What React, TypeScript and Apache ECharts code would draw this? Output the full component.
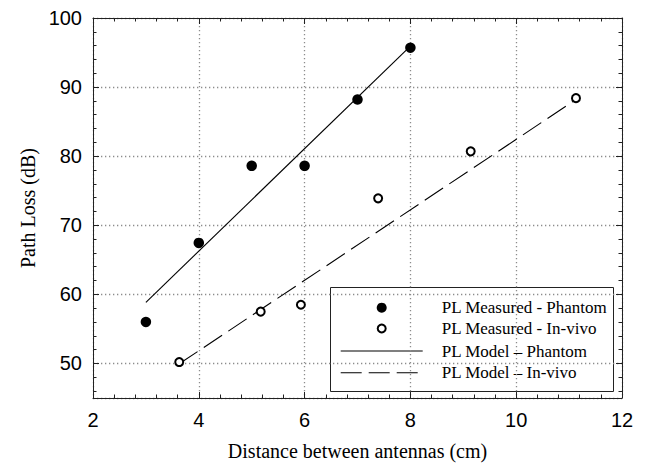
import React, { useEffect, useRef } from 'react';
import * as echarts from 'echarts';

// ---- data ----
const phantomDistance = [3, 4, 5, 6, 7, 8];
const phantomLoss = [56.0, 67.45, 78.6, 78.6, 88.2, 95.7];
const invivoDistance = [3.63, 5.17, 5.93, 7.39, 9.14, 11.13];
const invivoLoss = [50.2, 57.5, 58.5, 73.9, 80.7, 88.4];
const phantomModelDistance = [3, 8];
const phantomModelLoss = [58.84, 95.94];
const invivoModelDistance = [3.63, 11.13];
const invivoModelLoss = [49.95, 88.2];
const legendLabels = [
  'PL Measured - Phantom',
  'PL Measured - In-vivo',
  'PL Model \u2013 Phantom',
  'PL Model \u2013 In-vivo',
];
const xRange = [2, 12];
const xStep = 2;
const yRange = [45, 100];
const xTitle = 'Distance between antennas (cm)';
const yTitle = 'Path Loss (dB)';

const zip = (xs: number[], ys: number[]) => xs.map((x, i) => [x, ys[i]]);

const sans = '"Liberation Sans", Arial, sans-serif';
const serif = '"Liberation Serif", "Times New Roman", serif';
const axisColor = '#222';

export default function App() {
  const ref = useRef<HTMLDivElement>(null);

  useEffect(() => {
    if (!ref.current) return;
    const chart = echarts.init(ref.current, undefined, { renderer: 'svg' });

    const gridLine = {
      show: true,
      lineStyle: { color: '#8c8c8c', width: 1.3, type: [1.3, 2.7] },
    };
    const line = { show: true, onZero: false, lineStyle: { color: axisColor, width: 1 } };
    const majorTick = { show: true, inside: true, length: 6, lineStyle: { color: axisColor, width: 1 } };
    const minorTick = { show: true, splitNumber: 5, length: 3.5, lineStyle: { color: axisColor, width: 1 } };

    const xBase = { type: 'value', min: xRange[0], max: xRange[1], interval: xStep };
    const yBase = { type: 'value', min: yRange[0], max: yRange[1] };

    // legend box (drawn with graphic)
    const lx = 330.5, ly = 287.5, lw = 283, lh = 104;
    const rowY = [307.7, 328.5, 351, 372.7];
    const iconX0 = 340.7, iconX1 = 422.7, iconC = (iconX0 + iconX1) / 2;
    const textX = 441.7;

    const option: any = {
      animation: false,
      backgroundColor: '#fff',
      grid: { left: 93, right: 26, top: 18, bottom: 70, containLabel: false },
      xAxis: [
        {
          ...xBase,
          position: 'bottom',
          axisLine: line,
          axisTick: majorTick,
          minorTick,
          splitLine: gridLine,
          axisLabel: { color: '#000', fontFamily: sans, fontSize: 20, margin: 12 },
          name: xTitle,
          nameLocation: 'middle',
          nameGap: 43,
          nameTextStyle: { fontFamily: serif, fontSize: 20, color: '#000' },
        },
        {
          ...xBase,
          position: 'top',
          axisLine: line,
          axisTick: majorTick,
          minorTick,
          splitLine: { show: false },
          axisLabel: { show: false },
        },
      ],
      yAxis: [
        {
          ...yBase,
          splitNumber: 5,
          position: 'left',
          axisLine: line,
          axisTick: majorTick,
          splitLine: gridLine,
          axisLabel: { color: '#000', fontFamily: sans, fontSize: 20, margin: 11, showMinLabel: false },
          name: yTitle,
          nameLocation: 'middle',
          nameGap: 53,
          nameTextStyle: { fontFamily: serif, fontSize: 20, color: '#000' },
        },
        {
          ...yBase,
          splitNumber: 27,
          position: 'left',
          axisLine: { show: false },
          axisTick: { show: true, inside: true, length: 3.5, lineStyle: { color: axisColor, width: 1 } },
          splitLine: { show: false },
          axisLabel: { show: false },
        },
        {
          ...yBase,
          splitNumber: 5,
          position: 'right',
          axisLine: line,
          axisTick: majorTick,
          splitLine: { show: false },
          axisLabel: { show: false },
        },
        {
          ...yBase,
          splitNumber: 27,
          position: 'right',
          axisLine: { show: false },
          axisTick: { show: true, inside: true, length: 3.5, lineStyle: { color: axisColor, width: 1 } },
          splitLine: { show: false },
          axisLabel: { show: false },
        },
      ],
      series: [
        {
          name: legendLabels[2],
          type: 'line',
          data: zip(phantomModelDistance, phantomModelLoss),
          symbol: 'none',
          lineStyle: { color: '#000', width: 1.1 },
          z: 2,
        },
        {
          name: legendLabels[3],
          type: 'line',
          data: zip(invivoModelDistance, invivoModelLoss),
          symbol: 'none',
          lineStyle: { color: '#000', width: 1.1, type: [22, 7.5] },
          z: 2,
        },
        {
          name: legendLabels[0],
          type: 'scatter',
          data: zip(phantomDistance, phantomLoss),
          symbol: 'circle',
          symbolSize: 10.5,
          itemStyle: { color: '#000', opacity: 1 },
          z: 3,
        },
        {
          name: legendLabels[1],
          type: 'scatter',
          data: zip(invivoDistance, invivoLoss),
          symbol: 'circle',
          symbolSize: 8,
          itemStyle: { color: '#fff', borderColor: '#000', borderWidth: 2, opacity: 1 },
          z: 3,
        },
      ],
      graphic: [
        {
          type: 'group',
          z: 100,
          children: [
            {
              type: 'rect',
              shape: { x: lx, y: ly, width: lw, height: lh },
              style: { fill: '#fff', stroke: '#222', lineWidth: 1 },
            },
            {
              type: 'circle',
              shape: { cx: iconC, cy: rowY[0], r: 5 },
              style: { fill: '#000' },
            },
            {
              type: 'circle',
              shape: { cx: iconC, cy: rowY[1], r: 4 },
              style: { fill: '#fff', stroke: '#000', lineWidth: 2 },
            },
            {
              type: 'line',
              shape: { x1: iconX0, y1: rowY[2], x2: iconX1, y2: rowY[2] },
              style: { stroke: '#000', lineWidth: 1.1 },
            },
            {
              type: 'line',
              shape: { x1: iconX0, y1: rowY[3], x2: iconX1, y2: rowY[3] },
              style: { stroke: '#000', lineWidth: 1.1, lineDash: [21, 7] },
            },
            ...legendLabels.map((t, i) => ({
              type: 'text',
              x: textX,
              y: rowY[i],
              style: {
                text: t,
                fontFamily: serif,
                fontSize: 17,
                fill: '#000',
                align: 'left',
                verticalAlign: 'middle',
              },
            })),
          ],
        },
      ],
    };

    chart.setOption(option);
    return () => chart.dispose();
  }, []);

  return (
    <div
      ref={ref}
      style={{ position: 'fixed', left: 0, top: 0, width: 648, height: 468, background: '#fff' }}
    />
  );
}
